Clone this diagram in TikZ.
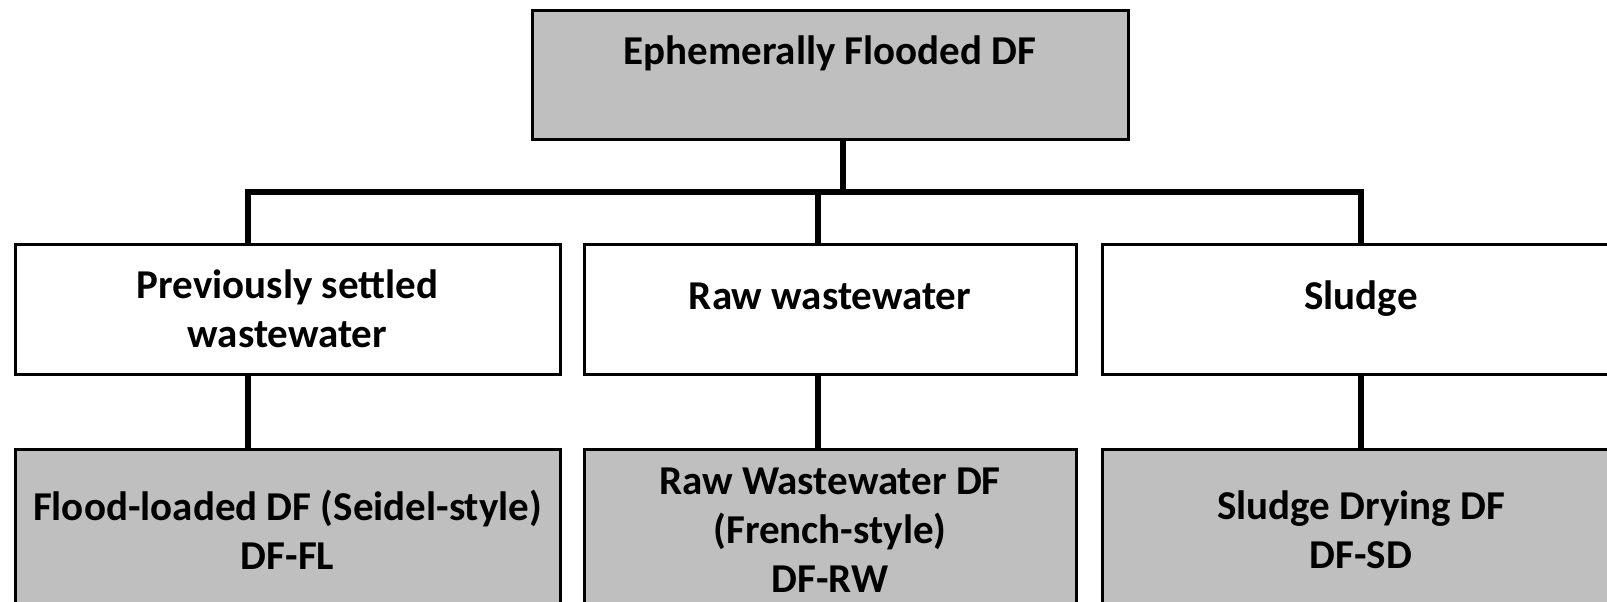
\documentclass[tikz,border=0pt]{standalone}
\usepackage{fontspec}
\setmainfont{Carlito}
\usepackage{xcolor}
\definecolor{boxgray}{RGB}{191,191,191}

\begin{document}
\begin{tikzpicture}[x=1pt,y=1pt]
		\tikzset{box/.style = {shape=rectangle, draw, line width=3pt, fill=white, align=center, inner sep=0pt, font=\fontsize{41}{49}\selectfont\bfseries}}
		\tikzset{graybox/.style = {box, fill=boxgray}}
		\tikzset{oneline/.style = {text height=20pt, text depth=20pt}}
		\tikzset{edge/.style = {line width=6pt}}

		\useasboundingbox (0,0) rectangle (1607,-602);

		\node[graybox, minimum width=596pt, minimum height=128pt] (T_1) at (830,-75) {Ephemerally Flooded DF\\~};

		\node[box, minimum width=545pt, minimum height=130pt] (M_1) at (287.5,-309) {Previously settled\\wastewater};
		\node[box, oneline, minimum width=492pt, minimum height=130pt] (M_2) at (830,-309) {Raw wastewater};
		\node[box, oneline, minimum width=518pt, minimum height=130pt] (M_3) at (1361,-309) {Sludge};

		\node[graybox, minimum width=545pt, minimum height=162pt] (B_1) at (287.5,-530) {Flood-loaded DF (Seidel-style)\\DF-FL};
		\node[graybox, minimum width=492pt, minimum height=162pt] (B_2) at (830,-530) {Raw Wastewater DF\\(French-style)\\DF-RW};
		\node[graybox, minimum width=518pt, minimum height=162pt] (B_3) at (1361,-530) {Sludge Drying DF\\DF-SD};

		\coordinate (J_0) at (843,-192);
		\coordinate (J_1) at (248,-192);
		\coordinate (J_2) at (818,-192);
		\coordinate (J_3) at (1361,-192);

		\draw[edge] (T_1.south -| J_0) to (J_0);
		\draw[edge] (M_1.north -| J_1) -- (J_1) -- (J_3) -- (M_3.north -| J_3);
		\draw[edge] (J_2) to (M_2.north -| J_2);
		\draw[edge] (M_1.south -| J_1) to (B_1.north -| J_1);
		\draw[edge] (M_2.south -| J_2) to (B_2.north -| J_2);
		\draw[edge] (M_3.south -| J_3) to (B_3.north -| J_3);


	\end{tikzpicture}
\end{document}
